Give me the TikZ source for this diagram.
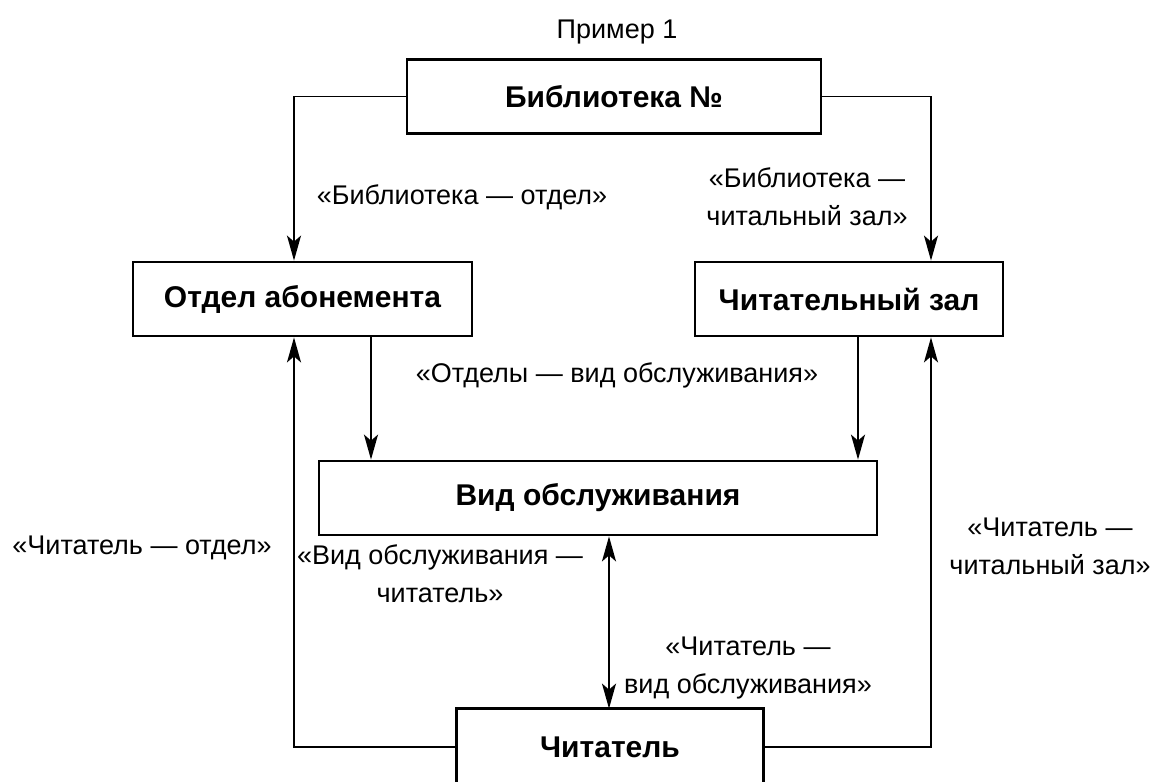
\documentclass[tikz,border=0pt]{standalone}
\usepackage{fontspec}
\setmainfont{Liberation Sans}
\usetikzlibrary{arrows.meta}
\begin{document}
\begin{tikzpicture}[x=1pt,y=-1pt,
  box/.style={draw, line width=2.8pt, font=\bfseries\fontsize{30}{36}\selectfont, inner sep=0pt, minimum height=74pt},
  lbl/.style={font=\fontsize{27}{38}\selectfont, align=center, inner sep=0pt},
  conn/.style={line width=1.8pt},
  tip/.style={},
  arr/.style={conn, -{Stealth[length=25pt,width=14pt,inset=6pt]}},
  dbl/.style={conn, {Stealth[length=25pt,width=14pt,inset=6pt]}-{Stealth[length=25pt,width=14pt,inset=6pt]}}]
\useasboundingbox (0,0) rectangle (1157,782);
\fill[white] (0,0) rectangle (1157,782);
\clip (0,0) rectangle (1157,782);

\coordinate (L) at (294,0);
\coordinate (R) at (931,0);
\coordinate (xa) at (371,0);
\coordinate (xb) at (858,0);
\coordinate (xc) at (609,0);

\node[lbl] (title) at (617,32) {Пример 1};
\node[box, minimum width=414pt] (lib) at (614,96.5) {Библиотека №};
\node[box, minimum width=339pt] (otdel) at (302.5,299) {Отдел абонемента};
\node[box, minimum width=308pt] (zal) at (849,299) {Читательный зал};
\node[box, minimum width=558pt] (vid) at (598,498) {Вид обслуживания};
\node[box, draw=none, minimum width=304pt] (chit) at (610,747) {Читатель};
\draw[line width=2.8pt] ([yshift=-30pt]chit.south west) |- (chit.north east) -- ([yshift=-30pt]chit.south east);

\draw[arr] (lib.west) -| (otdel.north -| L);
\draw[arr] (lib.east) -| (zal.north -| R);
\draw[arr] (otdel.south -| xa) -- (vid.north -| xa);
\draw[arr] (zal.south -| xb) -- (vid.north -| xb);
\draw[dbl] (vid.south -| xc) -- (chit.north -| xc);
\draw[arr] (chit.west) -| (otdel.south -| L);
\draw[arr] (chit.east) -| (zal.south -| R);

\node[lbl] (l1) at (462,197) {«Библиотека — отдел»};
\node[lbl] (l2) at (807,197) {«Библиотека —\\читальный зал»};
\node[lbl] (l3) at (617,375) {«Отделы — вид обслуживания»};
\node[lbl] (l4) at (142,548) {«Читатель — отдел»};
\node[lbl] (l5) at (1050,546) {«Читатель —\\читальный зал»};
\node[lbl] (l6) at (440,574) {«Вид обслуживания —\\читатель»};
\node[lbl] (l7) at (748,668) {«Читатель —\\вид обслуживания»};
\end{tikzpicture}
\end{document}
